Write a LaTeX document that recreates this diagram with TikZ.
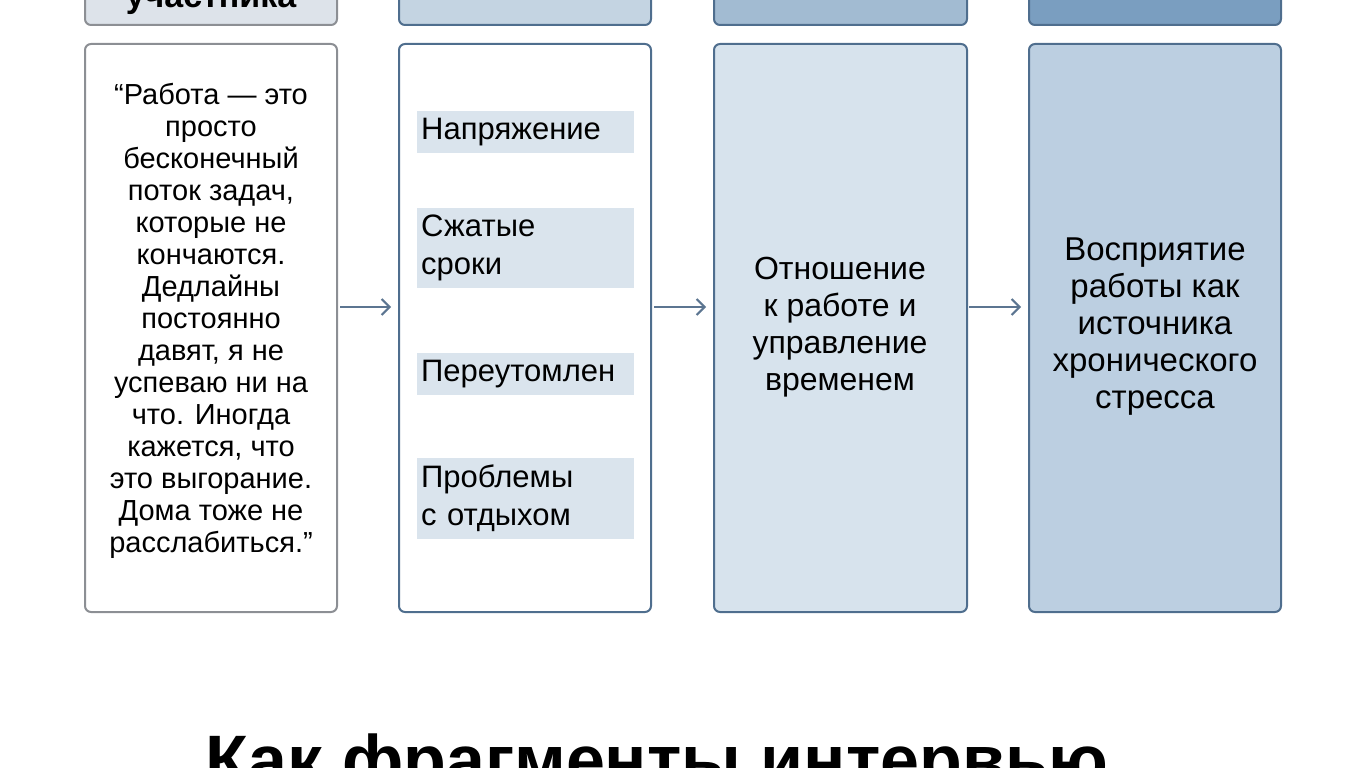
\documentclass[tikz,border=0pt]{standalone}
\usepackage{fontspec}
\setmainfont{Liberation Sans}
\usetikzlibrary{arrows.meta}
\definecolor{edgeA}{HTML}{8C8F94}
\definecolor{edgeB}{HTML}{4F6E8E}
\definecolor{headA}{HTML}{DDE3EA}
\definecolor{headB}{HTML}{C4D4E2}
\definecolor{headC}{HTML}{A2BBD2}
\definecolor{headD}{HTML}{7A9EC0}
\definecolor{bodyC}{HTML}{D7E3ED}
\definecolor{bodyD}{HTML}{BCCFE1}
\definecolor{barfill}{HTML}{DAE4ED}
\definecolor{arrowcol}{HTML}{5C7591}
\tikzset{
  box/.style={draw, line width=2pt, rounded corners=6pt},
  txt/.style={font=\fontsize{29}{32}\selectfont, align=center, inner sep=0pt},
  tag/.style={fill=barfill, font=\fontsize{31}{38}\selectfont, align=left, anchor=north west, text width=209pt, inner xsep=4pt, inner ysep=7pt},
  flow/.style={-{Straight Barb[length=8pt,width=16pt]}, line width=2pt, color=arrowcol}
}
\begin{document}
\begin{tikzpicture}[x=1pt,y=-1pt]
    \useasboundingbox (0,0) rectangle (1360,768);
    \clip (0,0) rectangle (1360,768);
    % header row, cut by the top edge
    \draw[box, draw=edgeA, fill=headA] (85,-40) rectangle (337,25);
    \draw[box, draw=edgeB, fill=headB] (399,-40) rectangle (651,25);
    \draw[box, draw=edgeB, fill=headC] (714,-40) rectangle (967,25);
    \draw[box, draw=edgeB, fill=headD] (1029,-40) rectangle (1281,25);
    \node[font=\bfseries\fontsize{34}{36}\selectfont, anchor=base] (head1) at (211,8) {участника};

    % body row
    \draw[box, draw=edgeA, fill=white] (85,44) rectangle (337,612);
    \draw[box, draw=edgeB, fill=white] (399,44) rectangle (651,612);
    \draw[box, draw=edgeB, fill=bodyC] (714,44) rectangle (967,612);
    \draw[box, draw=edgeB, fill=bodyD] (1029,44) rectangle (1281,612);

    \node[txt] (quote) at (211,321) {“Работа — это\\просто\\бесконечный\\поток задач,\\которые не\\кончаются.\\Дедлайны\\постоянно\\давят, я не\\успеваю ни на\\что. Иногда\\кажется, что\\это выгорание.\\Дома тоже не\\расслабиться.”};

    \node[tag] (code1) at (417,111) {Напряжение};
    \node[tag] (code2) at (417,208) {Сжатые\\сроки};
    \node[tag] (code3) at (417,353) {Переутомлен};
    \node[tag] (code4) at (417,458) {Проблемы\\с отдыхом};

    \node[txt, font=\fontsize{32}{37}\selectfont] (theme) at (840,327) {Отношение\\к работе и\\управление\\временем};
    \node[txt, font=\fontsize{33}{37}\selectfont] (concept) at (1155,327) {Восприятие\\работы как\\источника\\хронического\\стресса};

    \coordinate (a1) at (340,307);
    \coordinate (a2) at (391,307);
    \coordinate (a3) at (654,307);
    \coordinate (a4) at (706,307);
    \coordinate (a5) at (969,307);
    \coordinate (a6) at (1021,307);
    \draw[flow] (a1) -- (a2);
    \draw[flow] (a3) -- (a4);
    \draw[flow] (a5) -- (a6);

    % title, cut by the bottom edge
    \node[font=\bfseries\fontsize{70}{76}\selectfont, anchor=base west, inner sep=0pt] (title) at (205,784) {Как фрагменты интервью};
\end{tikzpicture}
\end{document}
